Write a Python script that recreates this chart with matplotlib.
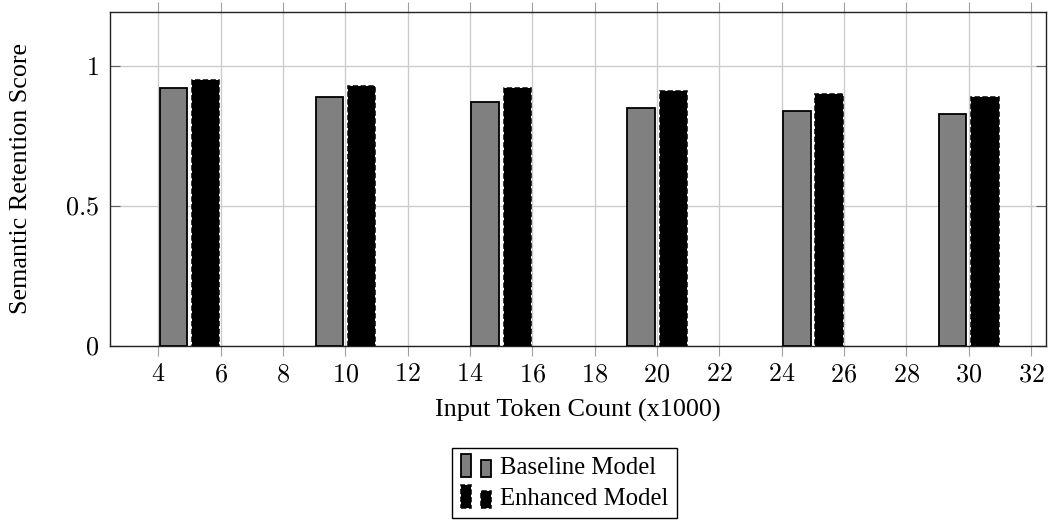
import matplotlib
matplotlib.use("Agg")
from matplotlib import pyplot as plt
from matplotlib.legend_handler import HandlerBase
from matplotlib.patches import Rectangle
import numpy as np

# data
tokens = [5, 10, 15, 20, 25, 30]
baseline = [0.92, 0.89, 0.87, 0.85, 0.84, 0.83]
enhanced = [0.95, 0.93, 0.92, 0.91, 0.90, 0.89]
xticks = list(range(4, 33, 2))
yticks = [0, 0.5, 1]

plt.rcParams['mathtext.fontset'] = 'cm'
plt.rcParams['font.family'] = ['Liberation Serif', 'DejaVu Serif']
fs = 18.8


class TwoBars(HandlerBase):
    # pgfplots-style legend icon: two little bars
    def create_artists(self, legend, orig, xd, yd, w, h, fontsize, trans):
        kw = dict(facecolor=orig.get_facecolor(), edgecolor=orig.get_edgecolor(),
                  linewidth=orig.get_linewidth(), linestyle=orig.get_linestyle(),
                  transform=trans)
        bw = w * 0.3
        r1 = Rectangle((xd + w * 0.02, yd - h * 0.2), bw, h * 1.35, **kw)
        r2 = Rectangle((xd + w * 0.6, yd - h * 0.2), bw, h * 1.0, **kw)
        return [r1, r2]


fig = plt.figure(figsize=(10.48, 5.22), dpi=100)
ax = fig.add_axes([110 / 1048, 1 - 346 / 522, 936 / 1048, 334 / 522])

x = np.array(tokens)
w = 0.88
b1 = ax.bar(x - 0.515, baseline, w, color='#808080', edgecolor='black', linewidth=1.3,
            label='Baseline Model', zorder=3)
b2 = ax.bar(x + 0.52, enhanced, w, color='black', edgecolor='black', linewidth=1.1,
            linestyle=(0, (3.5, 1.6)), label='Enhanced Model', zorder=3)

ax.set_xlim(2.45, 32.48)
ax.set_ylim(0, 1.193)
ax.set_xticks(xticks)
ax.set_xticklabels(['$%d$' % t for t in xticks], fontsize=fs)
ax.set_yticks(yticks)
ax.set_yticklabels(['$0$', '$0.5$', '$1$'], fontsize=fs)
ax.grid(True, color='#cccccc', linewidth=1.0, zorder=0)
ax.tick_params(axis='x', direction='out', length=7, color='#a0a0a0', top=True, pad=6)
ax.tick_params(axis='y', direction='in', length=7, color='#606060', right=True, pad=8)
for s in ax.spines.values():
    s.set_linewidth(1.0)
    s.set_color('#222222')

ax.set_xlabel('Input Token Count (x1000)', fontsize=fs, labelpad=9)
ax.set_ylabel('Semantic Retention Score', fontsize=fs, labelpad=24)

h1, h2 = b1.patches[0], b2.patches[0]
leg = fig.legend([h1, h2], ['Baseline Model', 'Enhanced Model'], loc='upper center',
                 bbox_to_anchor=(0.5387, 0.142), fontsize=17.8, borderaxespad=0,
                 handler_map={h1: TwoBars(), h2: TwoBars()},
                 frameon=True, fancybox=False, edgecolor='black', framealpha=1,
                 handlelength=1.35, handletextpad=0.25, borderpad=0.35, labelspacing=0.35)
leg.get_frame().set_linewidth(1.0)

fig.savefig('out.png', dpi=100)
